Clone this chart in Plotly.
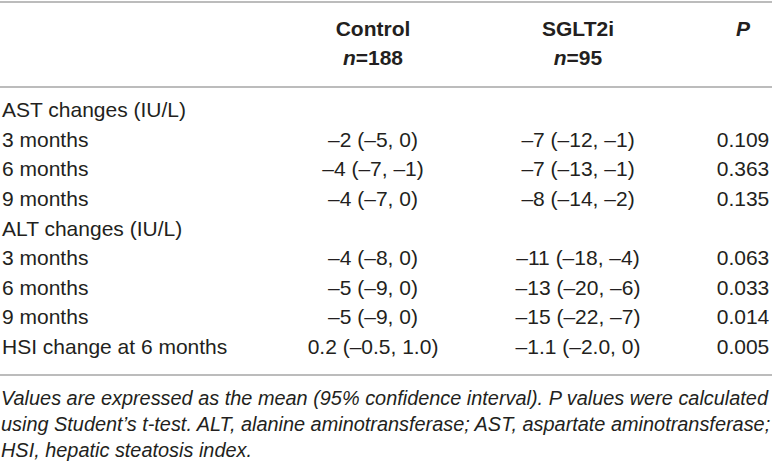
import plotly.graph_objects as go

# table content
row_labels = ['AST changes (IU/L)', '3 months', '6 months', '9 months',
              'ALT changes (IU/L)', '3 months', '6 months', '9 months',
              'HSI change at 6 months']
control = ['', '–2 (–5, 0)', '–4 (–7, –1)', '–4 (–7, 0)',
           '', '–4 (–8, 0)', '–5 (–9, 0)', '–5 (–9, 0)', '0.2 (–0.5, 1.0)']
sglt2i = ['', '–7 (–12, –1)', '–7 (–13, –1)', '–8 (–14, –2)',
          '', '–11 (–18, –4)', '–13 (–20, –6)', '–15 (–22, –7)', '–1.1 (–2.0, 0)']
p_values = ['', '0.109', '0.363', '0.135', '', '0.063', '0.033', '0.014', '0.005']

headers = ['<b>Control</b>', '<b>SGLT2i</b>', '<b><i>P</i></b>']
subheaders = ['<b><i>n</i>=188</b>', '<b><i>n</i>=95</b>', '']
footnote = [
    'Values are expressed as the mean (95% confidence interval). P values were calculated',
    'using Student’s t-test. ALT, alanine aminotransferase; AST, aspartate aminotransferase;',
    'HSI, hepatic steatosis index.',
]

FONT = 'Liberation Sans'
INK = '#231f20'
W, H = 772, 471
ROW0, STEP = 112, 29.6   # pixel centre of first body row, row pitch


def rowpos(p):
    # pixel offset from top -> row units used on the y axis
    return (p - ROW0) / STEP


col_x = [373, 578, 743]
rows = list(range(len(row_labels)))
body_font = dict(family=FONT, size=21, color=INK)

fig = go.Figure()

fig.add_trace(go.Scatter(x=[2] * len(rows), y=rows, text=row_labels, mode='text',
                         textposition='middle right', textfont=body_font))
for cx, col in zip(col_x, [control, sglt2i, p_values]):
    fig.add_trace(go.Scatter(x=[cx] * len(rows), y=rows, text=col, mode='text',
                             textposition='middle center', textfont=body_font))

fig.add_trace(go.Scatter(x=col_x, y=[rowpos(31)] * 3, text=headers, mode='text',
                         textposition='middle center', textfont=body_font))
fig.add_trace(go.Scatter(x=col_x, y=[rowpos(60)] * 3, text=subheaders, mode='text',
                         textposition='middle center', textfont=body_font))

fig.add_trace(go.Scatter(x=[1] * len(footnote), y=[rowpos(p) for p in (400, 426, 452)],
                         text=['<i>' + t + '</i>' for t in footnote], mode='text',
                         textposition='middle right',
                         textfont=dict(family=FONT, size=19.9, color=INK)))

fig.update_traces(cliponaxis=False, hoverinfo='skip')

for p in [2, 87, 375]:
    fig.add_shape(type='line', x0=0, x1=W, y0=rowpos(p), y1=rowpos(p),
                  line=dict(color='#a6a6a6', width=1.5))

fig.update_layout(
    width=W, height=H,
    margin=dict(l=0, r=0, t=0, b=0),
    paper_bgcolor='white', plot_bgcolor='white',
    showlegend=False,
    xaxis=dict(range=[0, W], visible=False, fixedrange=True),
    yaxis=dict(range=[rowpos(H), rowpos(0)], visible=False, fixedrange=True),
)

fig.write_html('out.html', config={'displayModeBar': False},
               post_script="document.body.style.margin='0';")
